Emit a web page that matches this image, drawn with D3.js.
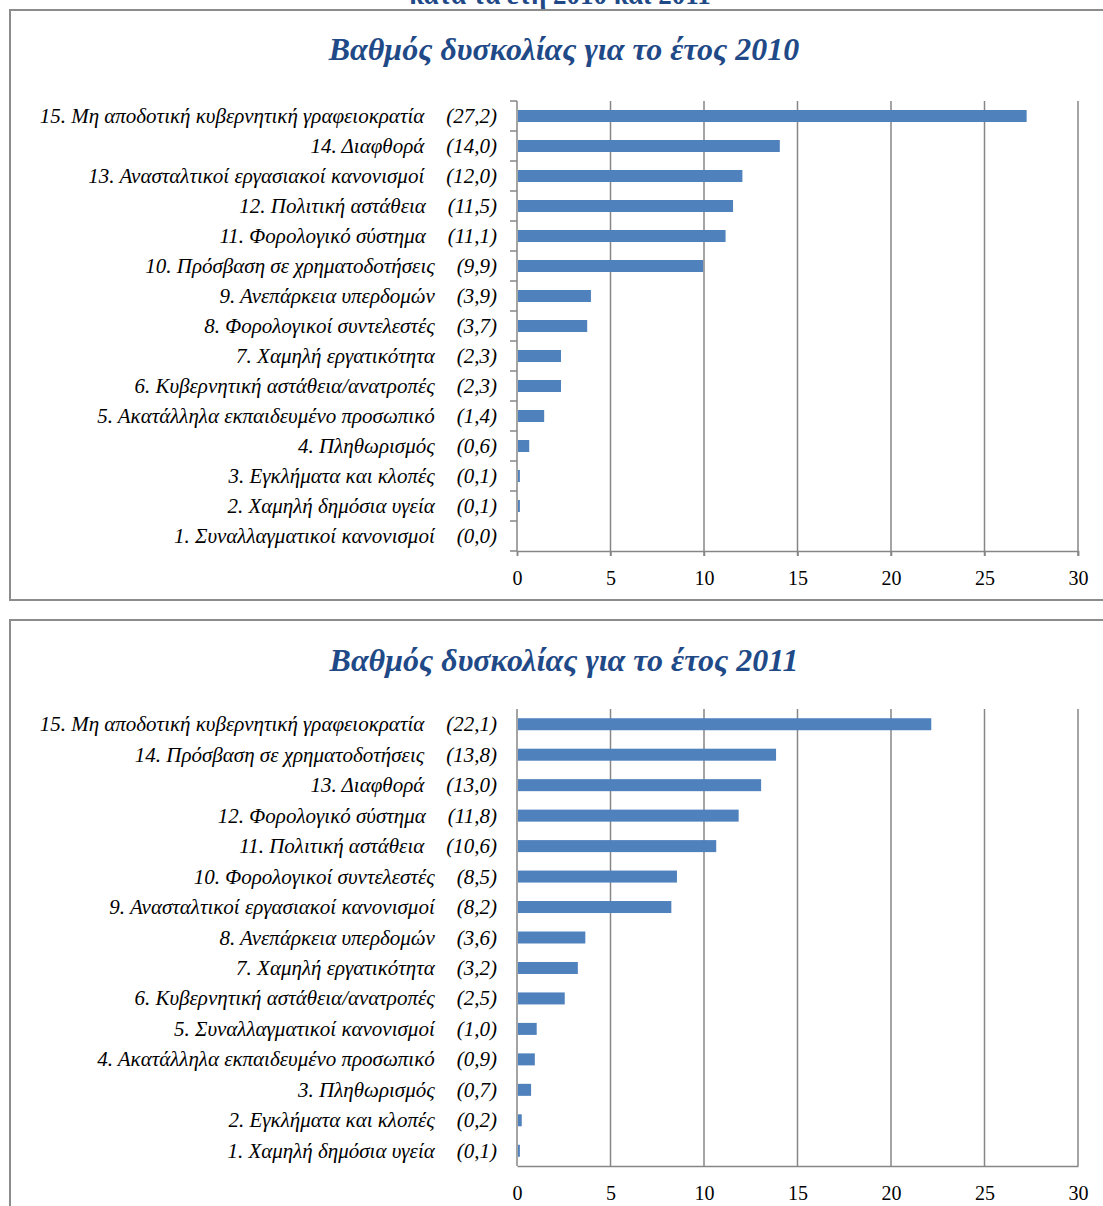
<!DOCTYPE html>
<html><head><meta charset="utf-8">
<script src="https://cdn.jsdelivr.net/npm/d3@7"></script>
<style>
html,body{margin:0;padding:0;background:#fff;}
svg{display:block;}
</style></head>
<body>
<svg id="c" width="1103" height="1206"></svg>
<script>
const supTitle = "κατά τα έτη 2010 και 2011";
const title2010 = "Βαθμός δυσκολίας για το έτος 2010";
const title2011 = "Βαθμός δυσκολίας για το έτος 2011";

const categories2010 = [
  "15. Μη αποδοτική κυβερνητική γραφειοκρατία",
  "14. Διαφθορά",
  "13. Ανασταλτικοί εργασιακοί κανονισμοί",
  "12. Πολιτική αστάθεια",
  "11. Φορολογικό σύστημα",
  "10. Πρόσβαση σε χρηματοδοτήσεις",
  "9. Ανεπάρκεια υπερδομών",
  "8. Φορολογικοί συντελεστές",
  "7. Χαμηλή εργατικότητα",
  "6. Κυβερνητική αστάθεια/ανατροπές",
  "5. Ακατάλληλα εκπαιδευμένο προσωπικό",
  "4. Πληθωρισμός",
  "3. Εγκλήματα και κλοπές",
  "2. Χαμηλή δημόσια υγεία",
  "1. Συναλλαγματικοί κανονισμοί"
];
const values2010 = [27.2, 14.0, 12.0, 11.5, 11.1, 9.9, 3.9, 3.7, 2.3, 2.3, 1.4, 0.6, 0.1, 0.1, 0.0];

const categories2011 = [
  "15. Μη αποδοτική κυβερνητική γραφειοκρατία",
  "14. Πρόσβαση σε χρηματοδοτήσεις",
  "13. Διαφθορά",
  "12. Φορολογικό σύστημα",
  "11. Πολιτική αστάθεια",
  "10. Φορολογικοί συντελεστές",
  "9. Ανασταλτικοί εργασιακοί κανονισμοί",
  "8. Ανεπάρκεια υπερδομών",
  "7. Χαμηλή εργατικότητα",
  "6. Κυβερνητική αστάθεια/ανατροπές",
  "5. Συναλλαγματικοί κανονισμοί",
  "4. Ακατάλληλα εκπαιδευμένο προσωπικό",
  "3. Πληθωρισμός",
  "2. Εγκλήματα και κλοπές",
  "1. Χαμηλή δημόσια υγεία"
];
const values2011 = [22.1, 13.8, 13.0, 11.8, 10.6, 8.5, 8.2, 3.6, 3.2, 2.5, 1.0, 0.9, 0.7, 0.2, 0.1];

const xTicks = [0, 5, 10, 15, 20, 25, 30];

const svg = d3.select("#c");
const SERIF = "'Liberation Serif','Times New Roman',serif";
const GRID = "#868686";
const BAR = "#4F81BD";
const TITLE_COL = "#1F4A87";

// super title (cut off at top, as in the reference)
svg.append("text").attr("x", 560).attr("y", 4)
  .attr("text-anchor", "middle").attr("font-family", SERIF)
  .attr("font-weight", "bold").attr("font-size", 27).attr("fill", TITLE_COL)
  .text(supTitle);

function fmt(v){ return "(" + v.toFixed(1).replace(".", ",") + ")"; }

function panel(opt){
  const g = svg.append("g");
  g.append("rect").attr("x", 10).attr("y", opt.frameTop)
    .attr("width", 1200).attr("height", opt.frameH)
    .attr("fill", "none").attr("stroke", "#8c8c8c").attr("stroke-width", 2);

  g.append("text").attr("x", 564).attr("y", opt.titleY)
    .attr("text-anchor", "middle").attr("font-family", SERIF)
    .attr("font-style", "italic").attr("font-weight", "bold")
    .attr("font-size", 32).attr("fill", TITLE_COL).text(opt.title);

  const x = d3.scaleLinear().domain([0, 30]).range([517, 1078]);
  const y = d3.scaleBand().domain(opt.cats).range([opt.top, opt.bottom]);

  g.append("g").selectAll("line").data(xTicks.filter(t => t > 0)).join("line")
    .attr("x1", d => x(d)).attr("x2", d => x(d))
    .attr("y1", opt.top).attr("y2", opt.bottom + (opt.ticks ? 5 : 0))
    .attr("stroke", GRID).attr("stroke-width", 1.5);

  g.append("g").selectAll("rect").data(opt.vals).join("rect")
    .attr("x", x(0) + 1)
    .attr("y", (d, i) => y(opt.cats[i]) + y.bandwidth() / 2 - 6)
    .attr("width", d => Math.max(0, x(d) - x(0)))
    .attr("height", 12)
    .attr("fill", BAR);

  const xa = g.append("g").attr("transform", `translate(0,${opt.bottom})`)
    .call(d3.axisBottom(x).tickValues(xTicks).tickSize(opt.ticks ? 5 : 0).tickPadding(opt.ticks ? 15 : 20));
  xa.select(".domain").attr("stroke", GRID).attr("stroke-width", 1.5);
  xa.selectAll(".tick line").attr("stroke", GRID).attr("stroke-width", 1.5);
  xa.selectAll(".tick text").attr("font-family", SERIF).attr("font-size", 20).attr("fill", "#000");

  const ya = g.append("g").attr("transform", `translate(${x(0)},0)`);
  ya.append("line").attr("x1", 0).attr("x2", 0).attr("y1", opt.top).attr("y2", opt.bottom)
    .attr("stroke", GRID).attr("stroke-width", 1.5);
  if (opt.ticks) {
    const bounds = opt.cats.map(c => y(c)).concat([opt.bottom]);
    ya.selectAll("line.tk").data(bounds).join("line").attr("class", "tk")
      .attr("x1", -7).attr("x2", 0).attr("y1", d => d).attr("y2", d => d)
      .attr("stroke", GRID).attr("stroke-width", 1.5);
  }

  const lab = g.append("g").selectAll("text").data(opt.cats).join("text")
    .attr("x", 497).attr("y", d => y(d) + y.bandwidth() / 2 + 7)
    .attr("text-anchor", "end").attr("font-family", SERIF)
    .attr("font-style", "italic").attr("font-size", 21).attr("fill", "#000");
  lab.append("tspan").text(d => d);
  lab.append("tspan").attr("dx", 22).text((d, i) => fmt(opt.vals[i]));
}

panel({frameTop: 10, frameH: 590, title: title2010, titleY: 60,
  cats: categories2010, vals: values2010, top: 101, bottom: 551, ticks: true});
panel({frameTop: 620, frameH: 700, title: title2011, titleY: 671,
  cats: categories2011, vals: values2011, top: 709, bottom: 1166, ticks: false});
</script>
</body></html>
